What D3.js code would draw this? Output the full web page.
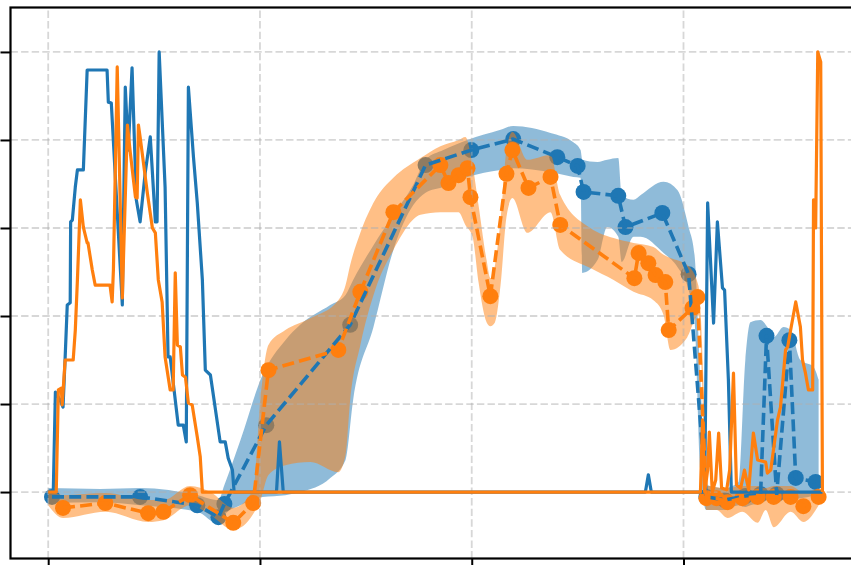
<!DOCTYPE html>
<html>
<head>
<meta charset="utf-8">
<script src="https://cdn.jsdelivr.net/npm/d3@7"></script>
<style>
  html, body { margin: 0; padding: 0; background: #fff; overflow: hidden; }
  svg { display: block; font-family: "DejaVu Sans", sans-serif; }
</style>
</head>
<body>
<svg id="chart" width="851" height="565"></svg>
<script>
// Axis ticks
const xTicks = [0, 50, 100, 150];
const yTicks = [0, 20, 40, 60, 80, 100];

// Series A (blue): raw signal
const rawXA = [0, 1.2, 1.7, 2.8, 3.5, 4.0, 4.5, 5.2, 5.3, 5.7, 6.4, 6.9, 8.3, 9.2, 13.9, 14.2, 14.9, 17.5, 18.2, 18.9, 19.8, 20.8, 21.7, 22.9, 24.1, 25.3, 25.7, 26.2, 27.6, 28.3, 28.8, 30.7, 31.9, 32.6, 33.1, 34.3, 35.2, 36.4, 37.1, 38.3, 40.6, 41.8, 42.5, 43.5, 43.9, 53.9, 54.6, 55.5, 141.0, 141.7, 142.4, 155.0, 155.7, 157.1, 158.0, 159.2, 159.7, 160.6, 161.3, 182.8];
const rawYA = [0, 0, 22.7, 20.9, 19.3, 30.5, 42.5, 43.0, 61.4, 61.8, 69.3, 73.2, 73.2, 95.9, 95.9, 88.6, 88.4, 42.5, 92.0, 77.7, 96.4, 66.4, 61.4, 72.5, 80.7, 61.4, 61.4, 100, 69.3, 30.7, 30.7, 15.2, 15.2, 11.4, 92.0, 76.1, 65.7, 48.2, 27.7, 26.6, 11.4, 11.4, 7.7, 5.0, 0, 0, 11.4, 0, 0, 3.9, 0, 0, 65.7, 38.4, 61.4, 46.4, 45.9, 25.5, 0, 0];

// Series B (orange): raw signal
const rawXB = [0, 1.9, 2.4, 3.1, 3.3, 4.0, 5.9, 6.4, 6.9, 7.6, 8.3, 9.2, 9.4, 10.4, 11.1, 14.6, 15.1, 15.4, 16.3, 17.5, 18.7, 19.4, 20.6, 21.0, 21.3, 21.7, 23.4, 24.6, 25.3, 26.0, 26.9, 27.6, 28.8, 29.5, 30.0, 30.5, 31.2, 31.7, 32.4, 33.1, 34.0, 35.2, 35.9, 36.4, 154.0, 154.5, 155.0, 155.7, 156.1, 156.8, 157.6, 158.3, 159.0, 160.2, 160.9, 161.8, 162.5, 163.5, 164.4, 165.4, 166.5, 167.5, 169.4, 169.8, 170.6, 172.2, 172.9, 174.1, 174.6, 175.3, 176.5, 177.6, 178.1, 178.8, 179.5, 180.5, 180.7, 181.2, 181.7, 182.4, 182.8];
const rawYB = [0, 0, 23.2, 23.6, 19.8, 30.0, 30.0, 36.8, 48.2, 66.4, 60.2, 56.6, 56.6, 50.5, 47.0, 47.0, 43.2, 50.5, 96.6, 44.1, 83.4, 77.0, 67.0, 66.8, 83.4, 80.7, 68.0, 60.0, 58.9, 48.2, 43.2, 30.7, 23.2, 23.2, 49.8, 33.4, 33.0, 26.6, 26.1, 20.2, 19.8, 12.5, 8.0, 0, 0, 16.4, 0, 5.0, 13.6, 0, 2.7, 13.4, 0.9, 0.5, 5.0, 27.0, 1.6, 0.9, 5.0, 0.5, 13.4, 7.3, 6.8, 4.3, 5.0, 16.4, 19.3, 32.3, 33.0, 36.8, 43.2, 37.5, 30.0, 27.0, 23.2, 23.2, 66.4, 60.0, 100, 97.7, 0];

// Series A (blue): sampled means
const meanXA = [0.9, 21.7, 35.2, 40.2, 41.6, 51.5, 71.3, 89.1, 99.9, 109.8, 120.2, 125.0, 126.4, 134.6, 136.3, 145.0, 151.2, 155.4, 159.7, 164.6, 168.2, 169.6, 172.0, 175.0, 176.5, 181.2];
const meanYA = [-1.1, -1.1, -3.0, -5.7, -2.7, 15.2, 38.0, 74.3, 77.7, 80.2, 76.1, 74.1, 68.2, 67.3, 60.2, 63.4, 49.5, -1.1, -1.8, -0.9, -0.5, 35.5, -0.5, 34.5, 3.2, 2.3];

// Series B (orange): sampled means
const meanXB = [3.5, 13.5, 23.6, 27.2, 33.5, 43.7, 48.4, 52.0, 68.5, 73.7, 81.5, 92.6, 94.5, 96.9, 99.0, 99.7, 104.4, 108.2, 109.6, 113.4, 118.6, 120.9, 138.4, 139.4, 141.7, 143.4, 145.7, 146.5, 152.1, 153.3, 155.4, 157.8, 160.4, 163.9, 167.5, 171.3, 175.3, 178.3, 181.9];
const meanYB = [-3.6, -2.5, -4.8, -4.5, -0.7, -7.0, -2.5, 27.7, 32.3, 45.5, 63.6, 74.3, 70.2, 72.0, 73.6, 67.0, 44.5, 72.3, 77.7, 69.1, 71.6, 60.7, 48.6, 54.3, 52.0, 49.3, 47.7, 36.8, 41.8, 44.3, -1.4, -1.4, -2.3, -1.4, -1.1, -1.1, -1.1, -3.2, -1.1];

// Series A (blue): spread band
const bandXA = [0, 12.3, 21.7, 35.2, 40.2, 41.6, 45.4, 50.6, 56.0, 59.5, 66.6, 70.2, 72.0, 76.8, 81.5, 86.2, 89.1, 93.3, 99.0, 106.8, 109.8, 118.6, 124.0, 125.7, 126.1, 129.7, 132.0, 134.6, 135.4, 138.2, 139.9, 145.3, 148.6, 151.2, 152.6, 154.0, 155.4, 159.7, 163.0, 164.6, 165.8, 168.2, 169.8, 171.3, 173.6, 175.3, 177.6, 180.7, 181.9];
const bandLoA = [-2.5, -2.3, -3.0, -4.5, -7.3, -5.2, -3.0, -1.1, -0.7, 0, 3.2, 7.3, 20.9, 37.5, 55.0, 65.2, 68.0, 69.3, 71.6, 73.2, 73.6, 72.7, 71.6, 71.4, 49.8, 52.7, 60.2, 58.0, 52.3, 58.0, 58.0, 54.3, 51.1, 45.9, 39.1, 5.0, -4.1, -4.1, -3.0, -3.4, -3.0, -2.5, -1.8, -1.8, -1.8, -1.8, -1.4, -0.7, 0];
const bandHiA = [0.9, 0.7, 0.9, -0.7, -1.8, 1.6, 11.8, 26.6, 34.5, 38.0, 42.5, 44.8, 48.2, 56.1, 63.0, 69.8, 75.5, 77.7, 80.0, 82.3, 83.2, 81.6, 79.5, 77.7, 75.5, 75.0, 75.5, 75.9, 67.5, 66.4, 67.5, 70.5, 68.6, 60.2, 53.9, 25.5, 1.6, 0.9, 2.3, 30.0, 38.6, 39.1, 37.5, 35.2, 37.5, 36.8, 30.0, 28.4, 25.5];

// Series B (orange): spread band
const bandXB = [0, 3.5, 13.5, 23.6, 27.2, 33.5, 38.3, 43.7, 48.4, 50.1, 52.0, 56.0, 61.9, 68.5, 70.2, 71.3, 73.7, 77.2, 81.5, 87.9, 92.6, 96.9, 98.5, 100.2, 101.6, 103.5, 104.4, 105.5, 106.8, 108.2, 109.6, 113.1, 118.6, 120.9, 128.0, 133.5, 138.2, 142.9, 145.3, 146.9, 150.9, 153.5, 154.7, 155.4, 157.8, 160.4, 163.9, 167.5, 169.4, 171.3, 175.3, 178.3, 181.9];
const bandLoB = [-3.0, -5.9, -4.5, -6.8, -6.4, -3.0, -5.2, -8.6, -5.0, -1.8, 3.9, 6.1, 6.8, 4.5, 8.4, 20.9, 33.4, 45.9, 55.0, 63.0, 63.6, 63.6, 60.7, 58.0, 47.7, 38.6, 37.7, 38.6, 47.0, 62.5, 66.8, 58.9, 63.6, 55.0, 50.9, 48.2, 45.5, 43.6, 40.2, 32.3, 35.2, 40.2, 16.4, -4.1, -4.1, -5.9, -4.5, -7.0, -4.1, -8.0, -4.5, -6.8, -3.0];
const bandHiB = [0.5, -0.7, -0.2, -1.8, -1.8, 1.4, 0, -3.6, 0.5, 20.9, 33.4, 36.8, 39.5, 43.6, 47.0, 51.6, 58.9, 66.4, 71.4, 75.9, 78.6, 80.0, 80.7, 74.3, 65.2, 52.7, 48.6, 51.6, 61.8, 77.7, 81.8, 75.5, 76.6, 67.5, 60.0, 57.7, 56.6, 55.7, 53.9, 53.2, 51.6, 47.0, 25.5, 1.6, 1.1, 0.9, 1.4, 1.4, 0.9, 1.4, 1.4, 0, 0.9];

const BLUE = "#1f77b4";
const ORANGE = "#ff7f0e";

const svg = d3.select("#chart");
const x = d3.scaleLinear().domain([-8.9, 191.2]).range([10.5, 858]);
const y = d3.scaleLinear().domain([-15.1, 110.1]).range([558.5, 7.5]);
const [x0, x1] = x.range();
const [y0, y1] = y.range();

svg.append("defs").append("clipPath").attr("id", "plot-clip")
  .append("rect").attr("x", x0).attr("y", y1).attr("width", x1 - x0).attr("height", y0 - y1);

const zip = (xs, ys) => xs.map((v, i) => [v, ys[i]]);
const band = (xs, lo, hi) => xs.map((v, i) => ({ x: v, lo: lo[i], hi: hi[i] }));

const plot = svg.append("g").attr("clip-path", "url(#plot-clip)");

const area = d3.area()
  .x(d => x(d.x)).y0(d => y(d.lo)).y1(d => y(d.hi))
  .curve(d3.curveMonotoneX);
const line = d3.line().x(d => x(d[0])).y(d => y(d[1]));

// Bands and sample markers (bottom layer)
function bandAndMarkers(xs, lo, hi, mx, my, color) {
  plot.append("path").datum(band(xs, lo, hi))
    .attr("d", area).attr("fill", color).attr("fill-opacity", 0.5).attr("stroke", "none");
  plot.append("g").selectAll("circle").data(zip(mx, my)).join("circle")
    .attr("cx", d => x(d[0])).attr("cy", d => y(d[1])).attr("r", 8)
    .attr("fill", color);
}
bandAndMarkers(bandXA, bandLoA, bandHiA, meanXA, meanYA, BLUE);
bandAndMarkers(bandXB, bandLoB, bandHiB, meanXB, meanYB, ORANGE);

// Grid
const grid = plot.append("g").attr("stroke", "#b0b0b0").attr("stroke-opacity", 0.5)
  .attr("stroke-width", 1.8).attr("stroke-dasharray", "7.4,3.2");
grid.selectAll(".gx").data(xTicks).join("line")
  .attr("x1", d => x(d)).attr("x2", d => x(d)).attr("y1", y0).attr("y2", y1);
grid.selectAll(".gy").data(yTicks).join("line")
  .attr("x1", x0).attr("x2", x1).attr("y1", d => y(d)).attr("y2", d => y(d));

// Lines
function rawLine(xs, ys, color) {
  plot.append("path").datum(zip(xs, ys)).attr("d", line)
    .attr("fill", "none").attr("stroke", color).attr("stroke-width", 3.2)
    .attr("stroke-linejoin", "round").attr("stroke-linecap", "butt");
}
function meanLine(xs, ys, color) {
  plot.append("path").datum(zip(xs, ys)).attr("d", line)
    .attr("fill", "none").attr("stroke", color).attr("stroke-width", 3.6)
    .attr("stroke-dasharray", "12,5.2").attr("stroke-linejoin", "round");
}
rawLine(rawXA, rawYA, BLUE);
meanLine(meanXA, meanYA, BLUE);
rawLine(rawXB, rawYB, ORANGE);
meanLine(meanXB, meanYB, ORANGE);

// Axes (tick marks only; the labels sit outside the drawing area)
const yAxis = d3.axisLeft(y).tickValues(yTicks).tickSize(10).tickSizeOuter(0).tickFormat("");
const xAxis = d3.axisBottom(x).tickValues(xTicks).tickSize(10).tickSizeOuter(0).tickFormat("");
const gy = svg.append("g").attr("transform", `translate(${x0},0)`).call(yAxis);
const gx = svg.append("g").attr("transform", `translate(0,${y0})`).call(xAxis);
[gy, gx].forEach(g => {
  g.select(".domain").remove();
  g.selectAll(".tick text").remove();
  g.selectAll(".tick line").attr("stroke", "#000").attr("stroke-width", 2);
});

// Frame
svg.append("rect").attr("x", x0).attr("y", y1).attr("width", x1 - x0).attr("height", y0 - y1)
  .attr("fill", "none").attr("stroke", "#000").attr("stroke-width", 2.2);
</script>
</body>
</html>
